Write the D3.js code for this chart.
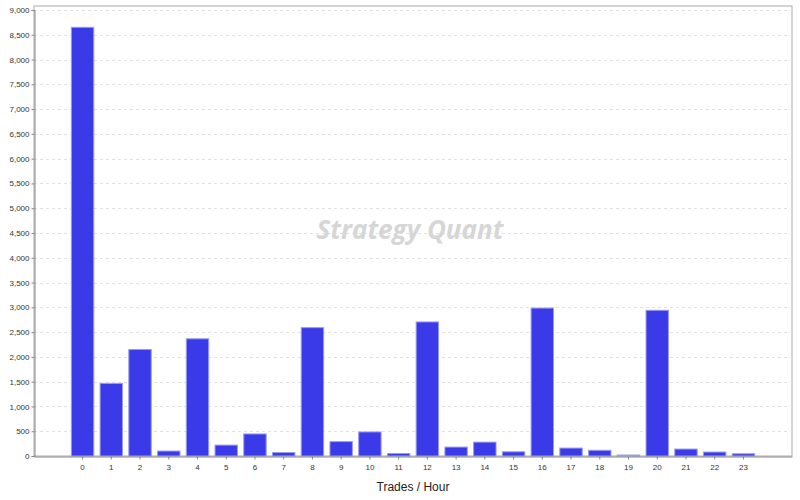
<!DOCTYPE html>
<html><head><meta charset="utf-8">
<script src="https://cdn.jsdelivr.net/npm/d3@7"></script>
<style>body{margin:0;background:#fff}svg{display:block}</style>
</head><body>
<svg id="c" width="800" height="500"></svg>
<script>
const hours = d3.range(24).map(String);
const trades = [8650,1465,2150,100,2365,220,445,70,2590,290,485,50,2705,180,280,85,2985,160,115,20,2940,140,80,45];
const yTicks = d3.range(0, 9001, 500);
const xTitle = "Trades / Hour";

const svg = d3.select("#c");
const L = 34, R = 792, T = 6, B = 456;
const x = d3.scaleBand().domain(hours).range([L, R]).paddingInner(0.22).paddingOuter(1.3);
const y = d3.scaleLinear().domain([0, 9000]).range([B, B - 9000*0.04956]);

svg.append("rect").attr("x", L).attr("y", T).attr("width", R-L).attr("height", B-T)
  .attr("fill", "#fff").attr("stroke", "#aaa").attr("stroke-width", 1);

svg.append("g").selectAll("line").data(yTicks.filter(d=>d>0)).join("line")
  .attr("x1", L).attr("x2", R).attr("y1", d=>Math.round(y(d))+0.5).attr("y2", d=>Math.round(y(d))+0.5)
  .attr("stroke", "#e2e2e2").attr("stroke-dasharray", "3,3");

const wm = svg.append("text").attr("x", 410).attr("y", 239).attr("text-anchor","middle")
  .attr("font-family","Open Sans, Liberation Sans, sans-serif").attr("font-style","italic").attr("font-weight","bold")
  .attr("font-size", 26).attr("fill", "#d6d6d6");
wm.append("tspan").text("Strategy ");
wm.append("tspan").text("Quant");

svg.append("g").selectAll("rect").data(trades).join("rect")
  .attr("x", (d,i)=>x(hours[i])).attr("width", x.bandwidth())
  .attr("y", d=>y(d)).attr("height", d=>B - y(d))
  .attr("fill", "#3a3ae8").attr("stroke", "#9a9af0").attr("stroke-width", 1);

const ya = d3.axisLeft(y).tickValues(yTicks).tickFormat(d3.format(",")).tickSize(3).tickPadding(2);
const yg = svg.append("g").attr("transform", `translate(${L+0.5},0)`).call(ya);
yg.select(".domain").attr("stroke", "#888");
yg.selectAll(".tick line").attr("stroke", "#888");
yg.selectAll("text").attr("font-family","Liberation Sans, Arial, sans-serif").attr("font-size", 8).attr("fill", "#333");

const xa = d3.axisBottom(x).tickSize(3).tickPadding(5).tickSizeOuter(0);
const xg = svg.append("g").attr("transform", `translate(0,${B+0.5})`).call(xa);
xg.select(".domain").attr("stroke", "#888");
xg.selectAll(".tick line").attr("stroke", "#888");
xg.selectAll("text").attr("font-family","Liberation Sans, Arial, sans-serif").attr("font-size", 8).attr("fill", "#333");

svg.append("text").attr("x", (L+R)/2).attr("y", 491).attr("text-anchor","middle")
  .attr("font-family","Liberation Sans, Arial, sans-serif").attr("font-size", 12).attr("fill","#222").text(xTitle);
</script>
</body></html>
